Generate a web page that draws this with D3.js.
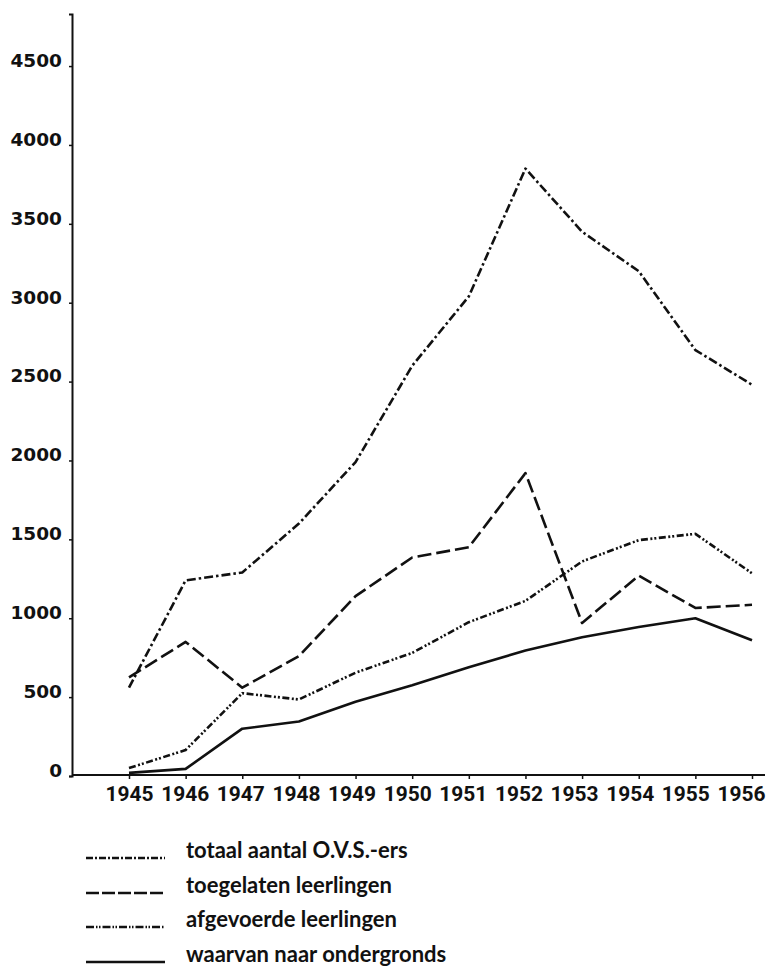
<!DOCTYPE html>
<html>
<head>
<meta charset="utf-8">
<script src="https://cdn.jsdelivr.net/npm/d3@7"></script>
<style>
  html, body { margin: 0; padding: 0; background: #fff; }
  svg { display: block; }
</style>
</head>
<body>
<svg id="chart" width="773" height="978"></svg>
<script>
// Jaren en reeksen
const years = ["1945","1946","1947","1948","1949","1950","1951","1952","1953","1954","1955","1956"];
const totaal = [560, 1240, 1290, 1600, 1990, 2600, 3040, 3850, 3450, 3200, 2700, 2480];
const toegelaten = [625, 850, 560, 760, 1140, 1385, 1450, 1920, 970, 1270, 1065, 1085];
const afgevoerde = [50, 165, 525, 485, 655, 780, 975, 1110, 1360, 1495, 1535, 1285];
const ondergronds = [20, 45, 300, 345, 470, 575, 690, 795, 880, 945, 1000, 860];
const yTicks = [0, 500, 1000, 1500, 2000, 2500, 3000, 3500, 4000, 4500];
const labels = ["totaal aantal O.V.S.-ers", "toegelaten leerlingen", "afgevoerde leerlingen", "waarvan naar ondergronds"];

const series = [
  { name: labels[0], values: totaal, dash: "9,3,2.5,3" },
  { name: labels[1], values: toegelaten, dash: "14,5" },
  { name: labels[2], values: afgevoerde, dash: "7,2.5,2,2,2,2.5" },
  { name: labels[3], values: ondergronds, dash: null }
];

const svg = d3.select("#chart");
const ink = "#111";

const x = d3.scalePoint().domain(years).range([129, 752]);
// jaartallen staan iets dichter op elkaar dan de maatstreepjes
const xLabel = d3.scalePoint().domain(years).range([129, 741]);
const y = d3.scaleLinear().domain([0, 4830]).range([776, 14]);

// y-as
const yAxis = d3.axisLeft(y).tickValues(yTicks).tickSize(3).tickPadding(7).tickFormat(d3.format("d"));
const gy = svg.append("g").attr("transform", "translate(72,0)").call(yAxis);
gy.select(".domain").attr("stroke", ink).attr("stroke-width", 2);
gy.selectAll(".tick line").attr("stroke", ink).attr("stroke-width", 1.5);
gy.selectAll(".tick text")
  .attr("fill", ink)
  .attr("dy", "0.02em")
  .style("font-family", "'DejaVu Sans', sans-serif")
  .style("font-weight", "bold")
  .style("font-size", "18.5px");

// x-as (smalle cijfers)
const xAxis = d3.axisBottom(x).tickSize(4).tickPadding(7);
const gx = svg.append("g").attr("transform", "translate(0,775)").call(xAxis);
gx.select(".domain").attr("d", "M72,0H765").attr("stroke", ink).attr("stroke-width", 2);
gx.selectAll(".tick line").attr("stroke", ink).attr("stroke-width", 1.5);
gx.selectAll(".tick text")
  .attr("fill", ink)
  .attr("x", d => xLabel(d) - x(d) - 24)
  .attr("text-anchor", "start")
  .attr("textLength", 48)
  .attr("lengthAdjust", "spacingAndGlyphs")
  .style("font-family", "Roboto, sans-serif")
  .style("font-weight", "bold")
  .style("font-size", "21px");

// lijnen
const line = d3.line().x((d, i) => x(years[i])).y(d => y(d));
svg.append("g").selectAll("path")
  .data(series)
  .join("path")
  .attr("d", s => line(s.values))
  .attr("fill", "none")
  .attr("stroke", ink)
  .attr("stroke-width", 2.6)
  .attr("stroke-linejoin", "round")
  .attr("stroke-dasharray", s => s.dash);

// legenda
const lg = svg.append("g");
const rowY = [858, 893, 927, 962];
const legendDash = ["7,2,2,2", "13,3", "8,2,1.5,1.5,1.5,2", null];
series.forEach((s, i) => {
  lg.append("line")
    .attr("x1", 86).attr("x2", 165)
    .attr("y1", rowY[i]).attr("y2", rowY[i])
    .attr("stroke", ink).attr("stroke-width", 2.4)
    .attr("stroke-dasharray", legendDash[i]);
  lg.append("text")
    .attr("x", 186).attr("y", rowY[i])
    .attr("fill", ink)
    .style("font-family", "Lato, sans-serif")
    .style("font-weight", "bold")
    .style("font-size", "22px")
    .text(s.name);
});
</script>
</body>
</html>
